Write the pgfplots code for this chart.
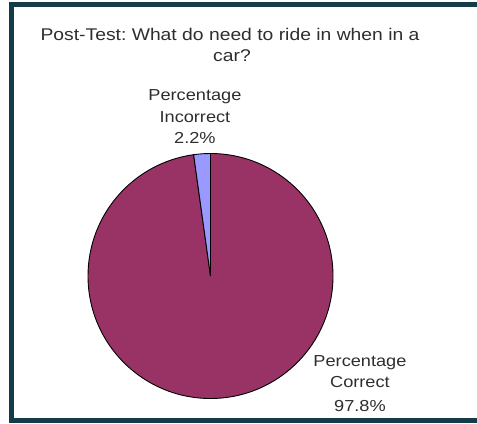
\documentclass[border=0pt]{standalone}
\usepackage{pgfplots}
\pgfplotsset{compat=1.18}
\usepackage{pgfplotstable}
\usepackage{fontspec}
\setmainfont{Liberation Sans}
\newfontfamily\chartfont[FakeStretch=1.14]{Liberation Sans}

\definecolor{pieMagenta}{HTML}{993366}
\definecolor{pieBlue}{HTML}{9999FF}
\definecolor{frameTeal}{RGB}{20,60,72}

% share of answers, in percent
\pgfplotstableread{
label      value
Correct    97.8
Incorrect  2.2
}\piedata

\begin{document}
\begin{tikzpicture}[x=1bp,y=1bp]
\useasboundingbox (0,0) rectangle (477,423);
% frame: left, top and bottom only
\fill[frameTeal] (9,0) rectangle (477,5);
\fill[frameTeal] (9,416) rectangle (477,421);
\fill[frameTeal] (9,0) rectangle (14,421);

\tikzset{ttl/.style={font=\chartfont\fontsize{17}{22}\selectfont, anchor=base, color=black!82, inner sep=0pt}}
\node[ttl] at (230,383) {Post-Test:\ What do need to ride in when in a};
\node[ttl] at (232,362) {car?};

\coordinate (piecentre) at (210.5,147);

\pgfplotstablegetelem{0}{value}\of\piedata \pgfmathsetmacro\vA{\pgfplotsretval}
\pgfplotstablegetelem{1}{value}\of\piedata \pgfmathsetmacro\vB{\pgfplotsretval}
\pgfmathsetmacro\aA{90-3.6*\vA}
\pgfmathsetmacro\aB{\aA-3.6*\vB}

\begin{axis}[
    scale only axis,
    width=245bp, height=245bp,
    xmin=-1, xmax=1, ymin=-1, ymax=1,
    hide axis, clip=false,
    anchor=origin, at={(piecentre)},
]
% pie slices, clockwise from 12 o'clock
\filldraw[fill=pieMagenta, draw=black, line width=0.9pt]
  (axis cs:0,0) -- ++(90:122.5bp) arc[start angle=90, end angle=\aA, radius=122.5bp] -- cycle;
\filldraw[fill=pieBlue, draw=black, line width=0.9pt]
  (axis cs:0,0) -- ++(\aA:122.5bp) arc[start angle=\aA, end angle=\aB, radius=122.5bp] -- cycle;

\tikzset{lbl/.style={font=\chartfont\fontsize{16}{22}\selectfont, anchor=base, color=black!82, inner sep=0pt}}
\node[lbl] at (axis cs:-0.127,1.43)  {Percentage};
\node[lbl] at (axis cs:-0.127,1.257) {Incorrect};
\node[lbl] at (axis cs:-0.127,1.078) {2.2\%};
\node[lbl] at (axis cs:1.22,-0.735)  {Percentage};
\node[lbl] at (axis cs:1.22,-0.914)  {Correct};
\node[lbl] at (axis cs:1.22,-1.102)  {97.8\%};
\end{axis}
\end{tikzpicture}
\end{document}
